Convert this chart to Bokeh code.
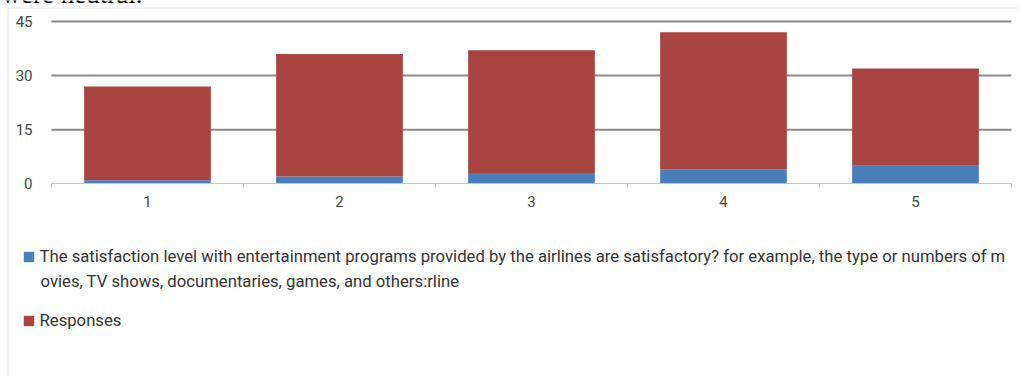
from bokeh.plotting import figure
from bokeh.models import (FixedTicker, Legend, LegendItem, Label, PolyAnnotation,
                          ColumnDataSource, LinearAxis)
from bokeh.embed import file_html
from bokeh.resources import INLINE

# Rating scale (1-5) and responses per rating
categories = ["1", "2", "3", "4", "5"]
rating_values = [1, 2, 3, 4, 5]
responses = [26, 34, 34, 38, 27]
y_ticks = [0, 15, 30, 45]

# series name, wrapped over two lines in the legend
series_label_lines = [
    "The satisfaction level with entertainment programs provided by the airlines "
    "are satisfactory? for example, the type or numbers of m",
    "ovies, TV shows, documentaries, games, and others:rline",
]
responses_label = "Responses"

BLUE = "#4a7ebb"
RED = "#a84441"
FONT = "Roboto"
LEGEND_FONT_SIZE = "16.7px"

W, H = 1019, 376
# plot area in pixels: categories span x 51..1011, values 0..45 span y 183.3..21
px_left, px_right, px_top, px_zero = 51.0, 1011.0, 21.0, 183.3
n = len(categories)
x_scale = (px_right - px_left) / n
y_scale = (px_zero - px_top) / y_ticks[-1]
x_start = 0.5 - px_left / x_scale
x_end = n + 0.5 + (W - px_right) / x_scale
y_end = y_ticks[-1] + px_top / y_scale
y_start = -(H - px_zero) / y_scale

x_pos = [int(c) for c in categories]
source = ColumnDataSource(dict(x=x_pos, rating=rating_values, responses=responses))

p = figure(width=W, height=H, output_backend="svg", toolbar_location=None,
           x_range=(x_start, x_end), y_range=(y_start, y_end),
           x_axis_type=None, y_axis_type=None, min_border=0)
p.outline_line_color = None
p.background_fill_color = "white"
p.border_fill_color = "white"
p.grid.visible = False

# horizontal gridlines at 15/30/45 across the category span
grid_y = y_ticks[1:]
p.segment(x0=[0.5] * len(grid_y), x1=[n + 0.5] * len(grid_y), y0=grid_y, y1=grid_y,
          line_color="#8a8a8a", line_width=2)

renderers = p.vbar_stack(["rating", "responses"], x="x", width=0.66, source=source,
                         color=[BLUE, RED], line_color=None)

# value axis
yaxis = LinearAxis(fixed_location=0.5, ticker=FixedTicker(ticks=y_ticks))
yaxis.axis_line_color = None
yaxis.major_tick_line_color = None
yaxis.minor_tick_line_color = None
yaxis.major_label_text_font = FONT
yaxis.major_label_text_font_size = "15px"
yaxis.major_label_text_color = "#444444"
yaxis.major_label_standoff = 13
p.add_layout(yaxis, "left")

# category axis: labels at centres, small ticks at boundaries
xaxis = LinearAxis(fixed_location=0, bounds=(0.5, n + 0.5),
                   ticker=FixedTicker(ticks=x_pos,
                                      minor_ticks=[x - 0.5 for x in x_pos] + [n + 0.5]))
xaxis.major_label_overrides = {x: c for x, c in zip(x_pos, categories)}
xaxis.major_tick_line_color = None
xaxis.minor_tick_line_color = "#bbbbbb"
xaxis.minor_tick_in = 0
xaxis.minor_tick_out = 4
xaxis.axis_line_color = "#c4c4c4"
xaxis.axis_line_width = 1
xaxis.major_label_text_font = FONT
xaxis.major_label_text_font_size = "15px"
xaxis.major_label_text_color = "#444444"
xaxis.major_label_standoff = 6
p.add_layout(xaxis, "below")

legend = Legend(items=[LegendItem(label=series_label_lines[0], renderers=[renderers[0]]),
                       LegendItem(label=responses_label, renderers=[renderers[1]])],
                location=(21.5, 46), orientation="vertical",
                glyph_width=13, glyph_height=13, label_standoff=5, spacing=45,
                padding=0, margin=0, border_line_color=None, background_fill_alpha=0,
                label_text_font=FONT, label_text_font_size=LEGEND_FONT_SIZE,
                label_text_color="#333333", label_height=10)
p.add_layout(legend, "center")

# continuation line of the first legend entry
p.add_layout(Label(x=40, y=281, x_units="canvas", y_units="canvas",
                   text=series_label_lines[1], text_font=FONT,
                   text_font_size=LEGEND_FONT_SIZE, text_color="#333333",
                   text_baseline="alphabetic"))

# surrounding box (top and left edges)
p.add_layout(PolyAnnotation(xs=[1100, 7.5, 7.5, 1100], ys=[7.5, 7.5, 420, 420],
                            xs_units="canvas", ys_units="canvas",
                            fill_color=None, line_color="#b4b4b4", line_width=1))

p.add_layout(Label(x=1, y=-7, x_units="canvas", y_units="canvas",
                   text="were neutral.", text_font="Liberation Serif",
                   text_font_size="27px", text_color="black",
                   text_baseline="alphabetic"))

open("out.html", "w").write(file_html(p, INLINE))
